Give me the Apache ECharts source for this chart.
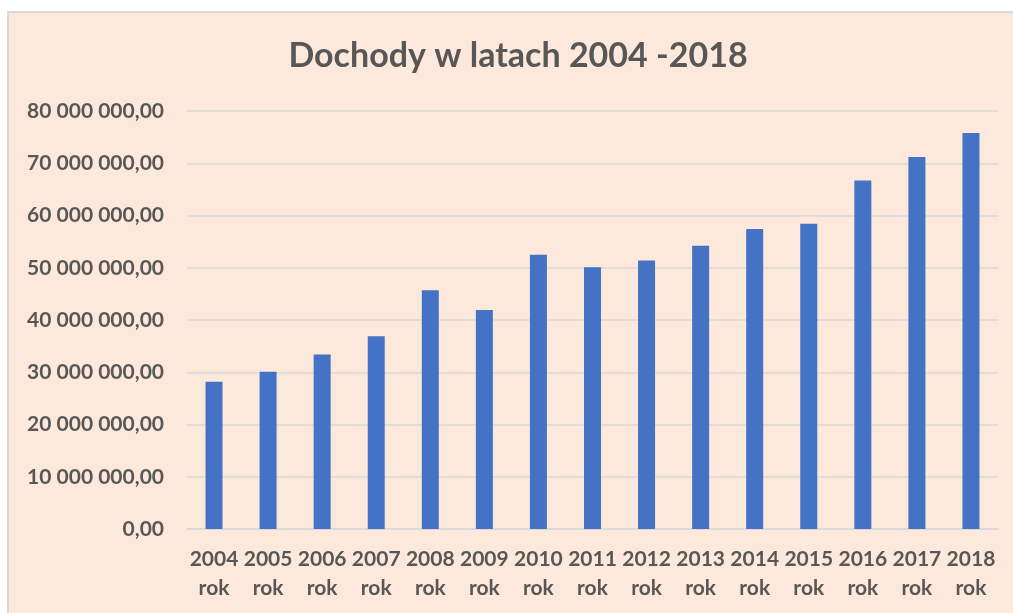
<!DOCTYPE html>
<html>
<head>
<meta charset="utf-8">
<script src="https://cdn.jsdelivr.net/npm/echarts@6/dist/echarts.min.js"></script>
<style>
html,body{margin:0;padding:0;background:#fff;width:1013px;height:613px;overflow:hidden;}
#c{position:absolute;left:7px;top:11px;width:1004px;height:600px;border-left:2px solid #d9d9d9;border-top:2px solid #d9d9d9;}
</style>
</head>
<body>
<div id="c"></div>
<script>
const titleText = 'Dochody w latach 2004 -2018';
const categories = ['2004 rok','2005 rok','2006 rok','2007 rok','2008 rok','2009 rok','2010 rok','2011 rok','2012 rok','2013 rok','2014 rok','2015 rok','2016 rok','2017 rok','2018 rok'];
const values = [28200000,30100000,33400000,36900000,45700000,41900000,52500000,50100000,51400000,54200000,57400000,58400000,66700000,71200000,75800000];
const yTicks = [0,10000000,20000000,30000000,40000000,50000000,60000000,70000000,80000000];

function fmt(v){
  const s = Math.round(v).toString().replace(/\B(?=(\d{3})+(?!\d))/g,' ');
  return s + ',00';
}

const chart = echarts.init(document.getElementById('c'), null, {renderer:'canvas'});
const FONT = 'Lato';
const TXT = '#575757';
chart.setOption({
  backgroundColor:'#FDE9DB',
  animation:false,
  title:{
    text:titleText,
    left:509,
    textAlign:'center',
    top:26,
    padding:0,
    textStyle:{fontFamily:FONT,fontWeight:'bold',fontSize:34,color:TXT}
  },
  grid:{left:178,right:15,top:98,bottom:84,containLabel:false},
  xAxis:{
    type:'category',
    data:categories,
    axisLine:{show:true,lineStyle:{color:'#D9D9D9',width:1.5}},
    axisTick:{show:false},
    axisLabel:{
      interval:0,
      margin:16,
      fontFamily:FONT,fontWeight:'bold',fontSize:21,color:TXT,lineHeight:29,
      formatter:function(v){return v.replace(' ','\n');}
    }
  },
  yAxis:{
    type:'value',
    min:yTicks[0],
    max:yTicks[yTicks.length-1],
    interval:yTicks[1]-yTicks[0],
    axisLine:{show:false},
    axisTick:{show:false},
    splitLine:{lineStyle:{color:'#D9D9D9',width:1.5}},
    axisLabel:{
      margin:23,
      fontFamily:FONT,fontWeight:'bold',fontSize:21,color:TXT,
      formatter:fmt
    }
  },
  series:[{
    type:'bar',
    data:values,
    barWidth:17,
    itemStyle:{color:'#4472C4'}
  }]
});
</script>
</body>
</html>
